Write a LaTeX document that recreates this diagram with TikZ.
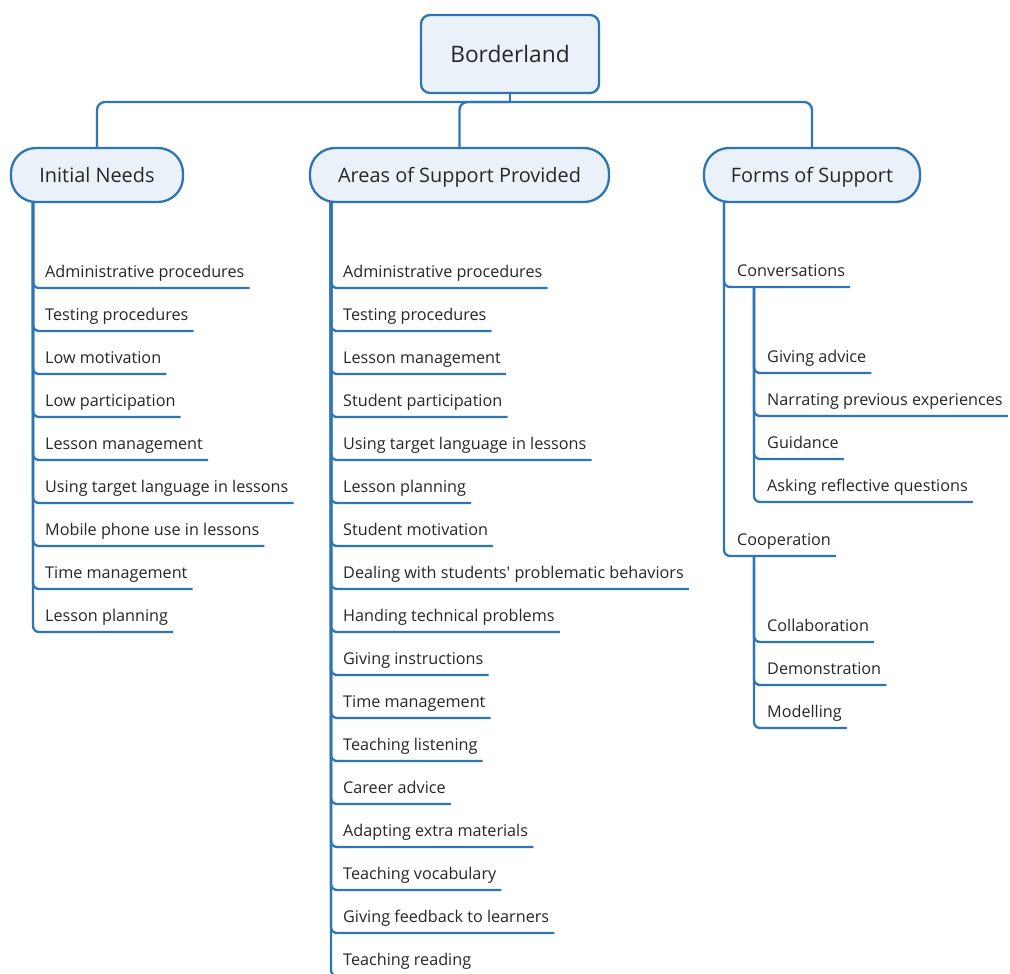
\documentclass[tikz,border=0pt]{standalone}
\usepackage{fontspec}
\setmainfont{Open Sans}
\usetikzlibrary{calc}
\definecolor{lineblue}{RGB}{46,117,182}
\definecolor{nodefill}{RGB}{234,241,249}
\definecolor{txtgray}{RGB}{38,38,38}
\tikzset{
  conn/.style={draw=lineblue, line width=2.3pt, rounded corners=6pt},
  rootbox/.style={draw=lineblue, fill=nodefill, line width=2.3pt, rounded corners=9pt,
    minimum width=178pt, minimum height=78pt, text=txtgray, text depth=0pt,
    font=\fontsize{22.7}{26}\selectfont},
  topic/.style={draw=lineblue, fill=nodefill, line width=2.3pt, rounded corners=25pt,
    minimum height=54pt, text=txtgray, text depth=0pt,
    font=\fontsize{19.9}{23}\selectfont},
  leaf/.style={inner sep=0pt, anchor=base west, text=txtgray,
    font=\fontsize{16.2}{19}\selectfont},
}
\begin{document}
\begin{tikzpicture}[x=1pt, y=-1pt]
\useasboundingbox (0,0) rectangle (1010,974);

% root and the three main topics
\node[rootbox] (root) at (510,54) {Borderland};
\node[topic, minimum width=172pt] (needs) at (97,175) {Initial Needs};
\node[topic, minimum width=299pt] (areas) at (459.5,175) {Areas of Support Provided};
\node[topic, minimum width=216pt] (forms) at (812,175) {Forms of Support};

\coordinate (bus) at (510,102);
\draw[conn] (root.south) -- (bus);
\draw[conn, rounded corners=8pt] (bus) -| (needs.north);
\draw[conn, rounded corners=8pt] (bus) -| (areas.north);
\draw[conn, rounded corners=8pt] (bus) -| (forms.north);

% spines under each topic
\coordinate (needsSpine) at (33,201);
\coordinate (areasSpine) at (331,201);
\coordinate (formsSpine) at (724,201);

% Initial Needs
\foreach [count=\i from 0] \t in {Administrative procedures, Testing procedures,
    Low motivation, Low participation, Lesson management,
    Using target language in lessons, Mobile phone use in lessons,
    Time management, Lesson planning}{
  \node[leaf] (need\i) at (45,277+43*\i) {\t};
  \draw[conn] (needsSpine) |- ($(need\i.base east)+(5,11)$);
}

% Areas of Support Provided
\foreach [count=\i from 0] \t in {Administrative procedures, Testing procedures,
    Lesson management, Student participation, Using target language in lessons,
    Lesson planning, Student motivation,
    Dealing with students\textquotesingle{} problematic behaviors,
    Handing technical problems,
    Giving instructions, Time management, Teaching listening, Career advice,
    Adapting extra materials, Teaching vocabulary, Giving feedback to learners,
    Teaching reading}{
  \node[leaf] (area\i) at (343,277+43*\i) {\t};
  \draw[conn] (areasSpine) |- ($(area\i.base east)+(5,11)$);
}

% Forms of Support
\node[leaf] (conv) at (737,276) {Conversations};
\draw[conn] (formsSpine) |- ($(conv.base east)+(5,11)$);
\node[leaf] (coop) at (737,545) {Cooperation};
\draw[conn] (formsSpine) |- ($(coop.base east)+(5,11)$);

\coordinate (convSpine) at (754,287);
\foreach [count=\i from 0] \t in {Giving advice, Narrating previous experiences,
    Guidance, Asking reflective questions}{
  \node[leaf] (conv\i) at (767,362+43*\i) {\t};
  \draw[conn] (convSpine) |- ($(conv\i.base east)+(5,11)$);
}

\coordinate (coopSpine) at (754,556);
\foreach [count=\i from 0] \t in {Collaboration, Demonstration, Modelling}{
  \node[leaf] (coop\i) at (767,631+43*\i) {\t};
  \draw[conn] (coopSpine) |- ($(coop\i.base east)+(5,11)$);
}
\end{tikzpicture}
\end{document}
